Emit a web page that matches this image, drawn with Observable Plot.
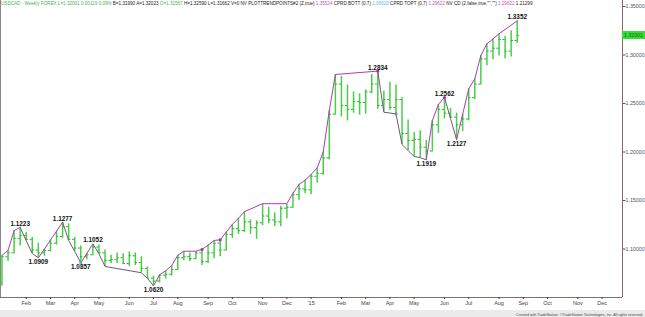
<!DOCTYPE html>
<html><head><meta charset="utf-8">
<script src="https://cdn.jsdelivr.net/npm/d3@7"></script>
<script src="https://cdn.jsdelivr.net/npm/@observablehq/plot@0.6"></script>
<style>
body{margin:0;background:#fff;}
#wrap{position:relative;width:645px;height:317px;overflow:hidden;font-family:"Liberation Sans",Arial,sans-serif;}
#hdr{position:absolute;left:1px;top:1px;font-size:4.6px;line-height:6px;white-space:nowrap;color:#222;}
#hdr .g{color:#4caf50}#hdr .p{color:#d050c0}#hdr .c{color:#55c8d8}
#foot{position:absolute;left:0;top:310px;width:645px;height:7px;background:#ebebeb;font-size:3.6px;line-height:7px;text-align:right;color:#444;}
#foot span{padding-right:2px;position:relative;top:1.5px}
#px{position:absolute;left:622px;width:23px;height:8px;background:#33dd33;color:#1f5f1f;font-size:5.2px;line-height:8px;text-align:center;}
</style></head><body><div id="wrap"></div>
<script>
// Weekly USD/CAD bars (week ending Friday)
const weeks = ["2014-01-10","2014-01-17","2014-01-24","2014-01-31","2014-02-07","2014-02-14","2014-02-21","2014-02-28","2014-03-07","2014-03-14","2014-03-21","2014-03-28","2014-04-04","2014-04-11","2014-04-18","2014-04-25","2014-05-02","2014-05-09","2014-05-16","2014-05-23","2014-05-30","2014-06-06","2014-06-13","2014-06-20","2014-06-27","2014-07-04","2014-07-11","2014-07-18","2014-07-25","2014-08-01","2014-08-08","2014-08-15","2014-08-22","2014-08-29","2014-09-05","2014-09-12","2014-09-19","2014-09-26","2014-10-03","2014-10-10","2014-10-17","2014-10-24","2014-10-31","2014-11-07","2014-11-14","2014-11-21","2014-11-28","2014-12-05","2014-12-12","2014-12-19","2014-12-26","2015-01-02","2015-01-09","2015-01-16","2015-01-23","2015-01-30","2015-02-06","2015-02-13","2015-02-20","2015-02-27","2015-03-06","2015-03-13","2015-03-20","2015-03-27","2015-04-03","2015-04-10","2015-04-17","2015-04-24","2015-05-01","2015-05-08","2015-05-15","2015-05-22","2015-05-29","2015-06-05","2015-06-12","2015-06-19","2015-06-26","2015-07-03","2015-07-10","2015-07-17","2015-07-24","2015-07-31","2015-08-07","2015-08-14","2015-08-21","2015-08-28"];
const open = [1.0650,1.0920,1.0960,1.1110,1.1140,1.1100,1.0990,1.0960,1.0985,1.1060,1.1130,1.1230,1.1100,1.1010,1.0920,1.0940,1.1020,1.0960,1.0880,1.0890,1.0910,1.0850,1.0930,1.0860,1.0800,1.0700,1.0670,1.0730,1.0740,1.0790,1.0910,1.0920,1.0900,1.0960,1.0870,1.0960,1.1060,1.0990,1.1150,1.1210,1.1190,1.1280,1.1220,1.1270,1.1340,1.1300,1.1280,1.1420,1.1430,1.1560,1.1620,1.1610,1.1750,1.1780,1.1940,1.2390,1.2700,1.2480,1.2440,1.2520,1.2510,1.2620,1.2700,1.2480,1.2540,1.2460,1.2540,1.2190,1.2120,1.2130,1.2050,1.2010,1.2280,1.2440,1.2400,1.2360,1.2280,1.2340,1.2560,1.2700,1.2960,1.3040,1.3070,1.3160,1.3040,1.3150];
const high = [1.0935,1.0985,1.1190,1.1223,1.1170,1.1120,1.1060,1.1000,1.1092,1.1184,1.1277,1.1260,1.1120,1.1030,1.0955,1.1052,1.1040,1.0990,1.0935,1.0960,1.0950,1.0970,1.0960,1.0920,1.0815,1.0720,1.0735,1.0775,1.0830,1.0935,1.0977,1.0960,1.0975,1.0995,1.1040,1.1088,1.1095,1.1175,1.1253,1.1315,1.1385,1.1300,1.1290,1.1467,1.1430,1.1370,1.1440,1.1460,1.1575,1.1665,1.1710,1.1768,1.1837,1.2000,1.2428,1.2799,1.2780,1.2690,1.2620,1.2600,1.2640,1.2800,1.2834,1.2630,1.2720,1.2690,1.2560,1.2330,1.2200,1.2220,1.2120,1.2325,1.2490,1.2562,1.2450,1.2400,1.2390,1.2651,1.2754,1.2995,1.3115,1.3166,1.3218,1.3190,1.3250,1.3352];
const low = [1.0615,1.0870,1.0950,1.1030,1.1085,1.0954,1.0909,1.0925,1.0970,1.1040,1.1110,1.1088,1.0975,1.0857,1.0890,1.0930,1.0950,1.0820,1.0850,1.0850,1.0840,1.0820,1.0830,1.0755,1.0697,1.0620,1.0650,1.0690,1.0720,1.0780,1.0880,1.0870,1.0890,1.0830,1.0850,1.0900,1.0920,1.0980,1.1110,1.1150,1.1170,1.1150,1.1100,1.1240,1.1260,1.1230,1.1230,1.1310,1.1420,1.1500,1.1570,1.1560,1.1680,1.1760,1.1920,1.2380,1.2360,1.2320,1.2400,1.2380,1.2390,1.2600,1.2440,1.2410,1.2430,1.2393,1.2077,1.2015,1.1954,1.1942,1.1919,1.2000,1.2190,1.2340,1.2345,1.2127,1.2210,1.2320,1.2540,1.2690,1.2890,1.2950,1.2990,1.2960,1.2980,1.3120];
const close = [1.0920,1.0960,1.1110,1.1140,1.1100,1.0990,1.0960,1.0985,1.1060,1.1130,1.1230,1.1100,1.1010,1.0920,1.0940,1.1020,1.0960,1.0880,1.0890,1.0910,1.0850,1.0930,1.0860,1.0800,1.0700,1.0670,1.0730,1.0740,1.0790,1.0910,1.0920,1.0900,1.0960,1.0870,1.0960,1.1060,1.0990,1.1150,1.1210,1.1190,1.1280,1.1220,1.1270,1.1340,1.1300,1.1280,1.1420,1.1430,1.1560,1.1620,1.1610,1.1750,1.1780,1.1940,1.2390,1.2700,1.2480,1.2440,1.2520,1.2510,1.2620,1.2700,1.2480,1.2540,1.2460,1.2540,1.2190,1.2120,1.2130,1.2050,1.2010,1.2280,1.2440,1.2400,1.2360,1.2280,1.2340,1.2560,1.2700,1.2960,1.3040,1.3070,1.3160,1.3040,1.3150,1.3200];

// Trend-point line (zigzag) vertices
const trendDates = ["2014-01-10","2014-01-17","2014-01-24","2014-01-31","2014-02-07","2014-02-14","2014-02-21","2014-02-28","2014-03-07","2014-03-14","2014-03-21","2014-03-28","2014-04-04","2014-04-11","2014-04-18","2014-04-25","2014-05-02","2014-05-09","2014-06-20","2014-06-27","2014-07-04","2014-07-11","2014-07-18","2014-07-25","2014-08-01","2014-08-08","2014-08-22","2014-08-29","2014-09-05","2014-09-12","2014-09-19","2014-09-26","2014-10-03","2014-10-10","2014-10-17","2014-11-07","2014-12-05","2014-12-12","2014-12-19","2014-12-26","2015-01-02","2015-01-09","2015-01-16","2015-01-23","2015-01-30","2015-03-20","2015-03-27","2015-04-10","2015-04-17","2015-04-24","2015-05-01","2015-05-08","2015-05-15","2015-05-22","2015-05-29","2015-06-05","2015-06-12","2015-06-19","2015-06-26","2015-07-03","2015-07-10","2015-07-17","2015-07-24","2015-07-31","2015-08-07","2015-08-28"];
const trendPrices = [1.0935,1.0985,1.1190,1.1223,1.1085,1.0954,1.0909,1.1000,1.1092,1.1184,1.1277,1.1088,1.0975,1.0857,1.0955,1.1052,1.0950,1.0820,1.0755,1.0697,1.0620,1.0735,1.0775,1.0830,1.0935,1.0977,1.0977,1.0995,1.1040,1.1088,1.1095,1.1175,1.1253,1.1315,1.1385,1.1467,1.1467,1.1575,1.1665,1.1710,1.1768,1.1837,1.2000,1.2428,1.2799,1.2834,1.2410,1.2393,1.2077,1.2015,1.1954,1.1942,1.1919,1.2325,1.2490,1.2562,1.2345,1.2127,1.2390,1.2651,1.2754,1.2995,1.3115,1.3166,1.3218,1.3352];

// Swing labels
const pivotDates = ["2014-01-31","2014-02-21","2014-03-21","2014-04-11","2014-04-25","2014-07-04","2015-03-20","2015-05-15","2015-06-05","2015-06-19","2015-08-28"];
const pivotPrices = [1.1223,1.0909,1.1277,1.0857,1.1052,1.0620,1.2834,1.1919,1.2562,1.2127,1.3352];
const pivotSides = ["H","L","H","L","H","L","H","L","H","L","H"];

// Marker dots on the line
const dotDates = ["2014-04-11","2014-08-29","2014-09-19","2015-03-20","2015-04-10","2015-06-05"];
const dotPrices = [1.0857,1.0995,1.1095,1.2834,1.2393,1.2562];
const dotColors = ["#50b8c8","#b030b0","#b030b0","#c020c0","#7090b0","#c020c0"];

const monthTicks = ["2014-02-07","2014-03-07","2014-04-04","2014-05-02","2014-06-06","2014-07-04","2014-08-01","2014-09-05","2014-10-03","2014-11-07","2014-12-05","2015-01-02","2015-02-06","2015-03-06","2015-04-03","2015-05-01","2015-06-05","2015-07-03","2015-08-07","2015-09-04","2015-10-02","2015-11-06","2015-12-04"];
const priceTicks = [1.10,1.15,1.20,1.25,1.30,1.35];
const lastPrice = 1.32001;

const D = s => new Date(s + "T00:00:00Z");
const bars = weeks.map((w,i) => ({date: D(w), open: open[i], high: high[i], low: low[i], close: close[i]}));
const trend = trendDates.map((d,i) => ({date: D(d), price: trendPrices[i]}));
const segs = trend.slice(1).map((p,i) => ({a: trend[i], b: p, up: p.price >= trend[i].price}));
const pivots = pivotDates.map((d,i) => ({date: D(d), price: pivotPrices[i], side: pivotSides[i]}));
const dots = dotDates.map((d,i) => ({date: D(d), price: dotPrices[i], color: dotColors[i]}));
const xDomain = [new Date("2014-01-08T07:00:00Z"), new Date("2015-12-27T14:00:00Z")];
const yDomain = [1.05, 1.35619];
const half = 2.6 * 864e5;
const barGreen = "#48cf48";
const axisColor = "#8a6a6a";
const fmt4 = d3.format(".4f");
const labelOpts = {x: "date", y: "price", text: d => fmt4(d.price), fontSize: 6.4, fontWeight: "bold", fill: "#111"};

const chart = Plot.plot({
  width: 645, height: 317,
  marginLeft: 0, marginRight: 23, marginTop: 0, marginBottom: 20,
  style: {fontFamily: "'Liberation Sans', Arial, sans-serif", background: "transparent", overflow: "visible"},
  x: {type: "utc", domain: xDomain},
  y: {domain: yDomain},
  marks: [
    Plot.ruleX(bars, {x: "date", y1: "low", y2: "high", stroke: barGreen, strokeWidth: 1.5}),
    Plot.ruleY(bars, {y: "open", x1: d => new Date(+d.date - half), x2: "date", stroke: "#30b030", strokeWidth: 1}),
    Plot.ruleY(bars, {y: "close", x1: "date", x2: d => new Date(+d.date + half), stroke: "#30b030", strokeWidth: 1}),
    Plot.link(segs, {x1: d => d.a.date, y1: d => d.a.price, x2: d => d.b.date, y2: d => d.b.price,
      stroke: d => d.up ? "#b03ab8" : "#6e5a7c", strokeWidth: 1}),
    Plot.dot(dots, {x: "date", y: "price", r: 1.6, fill: "color", stroke: null}),
    Plot.text(pivots.filter(d => d.side === "H"), {...labelOpts, lineAnchor: "bottom", dy: -1.5}),
    Plot.text(pivots.filter(d => d.side === "L"), {...labelOpts, lineAnchor: "top", dy: 1.5}),
    Plot.ruleX([xDomain[0]], {stroke: "#888", strokeWidth: 1}),
    Plot.ruleY([yDomain[0]], {stroke: axisColor, strokeWidth: 1}),
    Plot.ruleX([xDomain[1]], {stroke: axisColor, strokeWidth: 1}),
    Plot.axisY(priceTicks, {anchor: "right", tickFormat: ".5f", tickSize: 2.5, tickPadding: 0.5, fontSize: 5.3, color: "#555", label: null}),
    Plot.axisX(monthTicks.map(D), {tickFormat: d => d.getUTCMonth() === 0 ? "'" + String(d.getUTCFullYear()).slice(2) : d3.utcFormat("%b")(d),
      tickSize: 2, tickPadding: 1.5, fontSize: 5.5, color: "#444", label: null})
  ]
});

const wrap = document.getElementById("wrap");
wrap.appendChild(chart);

const hdr = document.createElement("div");
hdr.id = "hdr";
hdr.innerHTML = '<span class="g">USDCAD - Weekly FOREX L=1.32001 0.00119 0.09%</span> B=1.31990 A=1.32023 <span class="g">O=1.31567</span> H=1.32590 L=1.31662 V=0 NV PLOTTRENDPOINTS#2 (Z,true) <span class="p">1.35524</span> CPRD BOTT (0.7) <span class="c">1.09620</span> CPRD TOPT (0.7) <span class="p">1.29622</span> NV CD (2,false,true,"","") <span class="p">1.29622</span> 1.21299';
wrap.appendChild(hdr);

const px = document.createElement("div");
px.id = "px";
px.textContent = d3.format(".5f")(lastPrice);
px.style.top = (chart.scale("y").apply(lastPrice) - 4) + "px";
wrap.appendChild(px);

const foot = document.createElement("div");
foot.id = "foot";
foot.innerHTML = '<span>Created with TradeStation. ©TradeStation Technologies, Inc. All rights reserved.</span>';
wrap.appendChild(foot);
</script>
</body></html>
